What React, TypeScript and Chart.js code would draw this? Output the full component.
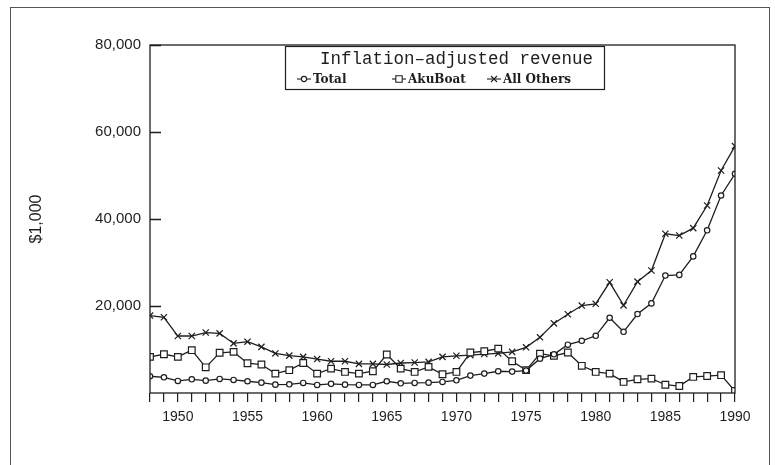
import React, { useEffect, useRef } from 'react';
import { Chart, registerables } from 'chart.js';

Chart.register(...registerables);

// ---- data ----
const years = [
  1948, 1949, 1950, 1951, 1952, 1953, 1954, 1955, 1956, 1957, 1958, 1959, 1960, 1961, 1962,
  1963, 1964, 1965, 1966, 1967, 1968, 1969, 1970, 1971, 1972, 1973, 1974, 1975, 1976, 1977,
  1978, 1979, 1980, 1981, 1982, 1983, 1984, 1985, 1986, 1987, 1988, 1989, 1990,
];
const total = [
  3850, 3610, 2770, 3150, 2840, 3230, 3000, 2700, 2380, 1920, 2000, 2310, 1850, 2100, 1920,
  1850, 1850, 2700, 2230, 2310, 2380, 2540, 2920, 4000, 4460, 5000, 4920, 5150, 7900, 8900,
  11100, 12000, 13150, 17300, 14070, 18150, 20600, 27000, 27150, 31400, 37400, 45400, 50400,
];
const akuBoat = [
  8300, 8900, 8300, 9850, 5900, 9250, 9450, 6850, 6550, 4450, 5250, 6900, 4450, 5600, 4850,
  4450, 5000, 8850, 5600, 4850, 6000, 4300, 4850, 9300, 9600, 10200, 7300, 5250, 9050, 8550,
  9300, 6250, 4850, 4450, 2550, 3150, 3300, 1900, 1600, 3700, 3900, 4100, 450,
];
const allOthers = [
  17800, 17400, 13100, 13100, 13900, 13700, 11400, 11800, 10600, 9100, 8600, 8300, 7800, 7300, 7300,
  6700, 6700, 6550, 6900, 7000, 7150, 8300, 8550, 8700, 8950, 9100, 9450, 10500, 12800, 16000,
  18100, 20100, 20500, 25450, 20150, 25600, 28150, 36600, 36200, 37900, 43100, 51150, 56750,
];
const yTickValues = [20000, 40000, 60000, 80000];
const seriesNames = ['Total', 'AkuBoat', 'All Others'];
const legendTitle = 'Inflation\u2013adjusted revenue';
const yTitle = '$1,000';

const INK = '#1e1e1e';

function drawMarker(ctx: CanvasRenderingContext2D, kind: string, x: number, y: number) {
  ctx.beginPath();
  if (kind === 'circle') {
    ctx.arc(x, y, 2.6, 0, Math.PI * 2);
    ctx.fillStyle = '#fff';
    ctx.fill();
    ctx.stroke();
  } else if (kind === 'rect') {
    ctx.rect(x - 3.2, y - 3.2, 6.4, 6.4);
    ctx.fillStyle = '#fff';
    ctx.fill();
    ctx.stroke();
  } else {
    const s = 3;
    ctx.moveTo(x - s, y - s);
    ctx.lineTo(x + s, y + s);
    ctx.moveTo(x + s, y - s);
    ctx.lineTo(x - s, y + s);
    ctx.stroke();
  }
}

const decor = {
  id: 'decor',
  afterDatasetsDraw(chart: any) {
    const { ctx, chartArea: a, scales } = chart;
    ctx.save();
    ctx.strokeStyle = INK;
    ctx.lineWidth = 1.3;
    ctx.strokeRect(a.left, a.top, a.right - a.left, a.bottom - a.top);
    // inward y tick marks
    ctx.beginPath();
    for (const v of yTickValues) {
      const py = Math.round(scales.y.getPixelForValue(v)) + 0.5;
      ctx.moveTo(a.left, py);
      ctx.lineTo(a.left + 11, py);
    }
    ctx.stroke();

    // legend box
    const bx = 285, by = 46, bw = 319, bh = 43;
    ctx.fillStyle = '#fff';
    ctx.fillRect(bx, by, bw, bh);
    ctx.lineWidth = 1.2;
    ctx.strokeRect(bx + 0.5, by + 0.5, bw, bh);

    ctx.fillStyle = INK;
    ctx.textBaseline = 'middle';
    ctx.textAlign = 'left';
    ctx.font = '17.5px "Liberation Mono", "DejaVu Sans Mono", monospace';
    ctx.fillText(legendTitle, 320, 59);

    const kinds = ['circle', 'rect', 'cross'];
    const xs = [297, 392, 487];
    ctx.font = 'bold 12px "DejaVu Serif", serif';
    ctx.lineWidth = 1.1;
    for (let i = 0; i < 3; i++) {
      const x0 = xs[i];
      const yy = 79;
      ctx.beginPath();
      ctx.moveTo(x0, yy);
      ctx.lineTo(x0 + 14, yy);
      ctx.stroke();
      drawMarker(ctx, kinds[i], x0 + 7, yy);
      ctx.fillStyle = INK;
      ctx.fillText(seriesNames[i], x0 + 16, yy + 0.5);
    }
    ctx.restore();
  },
};

export default function App() {
  const ref = useRef<HTMLCanvasElement>(null);

  useEffect(() => {
    const canvas = ref.current;
    if (!canvas) return;
    Chart.defaults.font.family = '"Liberation Sans", Arial, sans-serif';
    Chart.defaults.color = INK;

    const mk = (label: string, values: number[], pointStyle: any, radius: number) => ({
      label,
      data: years.map((yr, i) => ({ x: yr, y: values[i] })),
      borderColor: INK,
      borderWidth: 1.3,
      pointStyle,
      pointRadius: radius,
      pointHoverRadius: radius,
      pointBorderWidth: 1.2,
      pointBackgroundColor: '#fff',
      pointBorderColor: INK,
      fill: false,
      tension: 0,
    });

    const chart = new Chart(canvas, {
      type: 'line',
      data: {
        datasets: [
          mk(seriesNames[0], total, 'circle', 2.7),
          mk(seriesNames[1], akuBoat, 'rect', 4.7),
          mk(seriesNames[2], allOthers, 'crossRot', 4.4),
        ],
      },
      options: {
        animation: false,
        responsive: false,
        devicePixelRatio: 1,
        layout: { padding: { left: 0, top: 45, right: 40, bottom: 0 } },
        plugins: { legend: { display: false }, tooltip: { enabled: false } },
        scales: {
          x: {
            type: 'linear',
            min: 1948,
            max: 1990,
            border: { display: false },
            grid: {
              display: true,
              drawOnChartArea: false,
              drawTicks: true,
              tickLength: 9,
              color: INK,
              lineWidth: 1.2,
            },
            ticks: {
              stepSize: 1,
              autoSkip: false,
              maxRotation: 0,
              padding: 7,
              font: { size: 14 },
              color: INK,
              callback: (v: any) => (Number(v) % 5 === 0 ? String(v) : ''),
            },
            afterFit: (s: any) => {
              s.height = 72;
            },
          },
          y: {
            min: 0,
            max: 80000,
            border: { display: false },
            grid: { display: false, drawTicks: false },
            ticks: {
              stepSize: 20000,
              padding: 9,
              font: { size: 15 },
              color: INK,
              callback: (v: any) => (Number(v) === 0 ? '' : Number(v).toLocaleString('en-US')),
            },
            title: {
              display: true,
              text: yTitle,
              font: { size: 16 },
              color: INK,
              padding: { top: 27, bottom: 0 },
            },
            afterFit: (s: any) => {
              s.width = 150;
            },
          },
        },
      },
      plugins: [decor],
    });

    return () => chart.destroy();
  }, []);

  return (
    <div
      style={{
        position: 'absolute',
        left: 0,
        top: 0,
        width: 775,
        height: 465,
        overflow: 'hidden',
        background: '#fff',
      }}
    >
      <div
        style={{
          position: 'absolute',
          left: 10,
          top: 7,
          width: 758,
          height: 480,
          border: '1px solid #555',
        }}
      />
      <canvas
        ref={ref}
        width={775}
        height={465}
        style={{ position: 'absolute', left: 0, top: 0, width: 775, height: 465 }}
      />
    </div>
  );
}
